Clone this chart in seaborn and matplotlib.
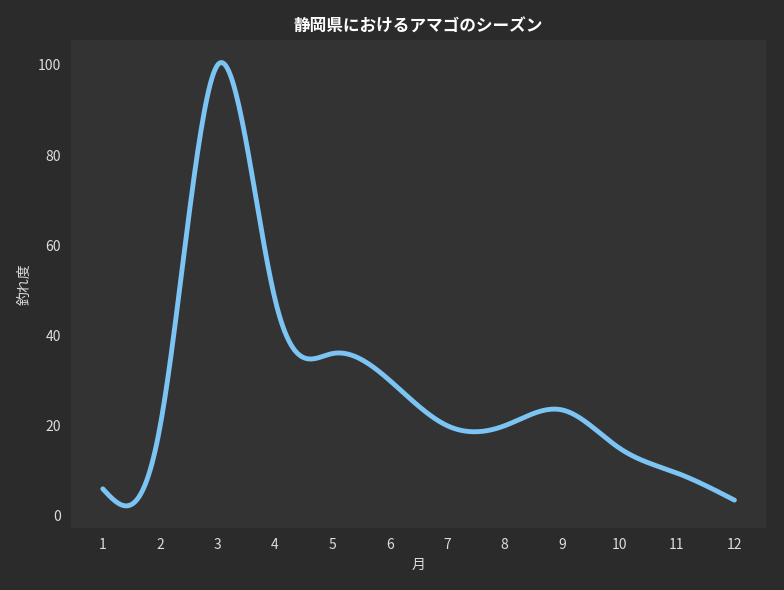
import numpy as np
import pandas as pd
import matplotlib.pyplot as plt
import seaborn as sns

months = [1, 2, 3, 4, 5, 6, 7, 8, 9, 10, 11, 12]
scores = [6, 20, 100, 48, 36, 30, 20, 20, 23.5, 15, 9.5, 3.5]


def natural_spline(x, y, xs):
    # natural cubic spline, only to draw a smooth line through the monthly values
    x = np.asarray(x, float); y = np.asarray(y, float)
    n = len(x); h = np.diff(x)
    A = np.zeros((n, n)); b = np.zeros(n)
    A[0, 0] = A[-1, -1] = 1
    for i in range(1, n - 1):
        A[i, i - 1] = h[i - 1]; A[i, i] = 2 * (h[i - 1] + h[i]); A[i, i + 1] = h[i]
        b[i] = 6 * ((y[i + 1] - y[i]) / h[i] - (y[i] - y[i - 1]) / h[i - 1])
    m = np.linalg.solve(A, b)
    idx = np.clip(np.searchsorted(x, xs) - 1, 0, n - 2)
    x0, x1, hi = x[idx], x[idx + 1], h[idx]
    return (m[idx] * (x1 - xs) ** 3 / (6 * hi) + m[idx + 1] * (xs - x0) ** 3 / (6 * hi)
            + (y[idx] / hi - m[idx] * hi / 6) * (x1 - xs)
            + (y[idx + 1] / hi - m[idx + 1] * hi / 6) * (xs - x0))


xs = np.linspace(1, 12, 400)
df = pd.DataFrame({"月": xs, "釣れ度": natural_spline(months, scores, xs)})

sns.set_theme(style="dark")
plt.rcParams['font.family'] = ['Noto Sans CJK JP', 'DejaVu Sans']

fig, ax = plt.subplots(figsize=(7.84, 5.9), dpi=100)
fig.patch.set_facecolor("#2b2b2b")
ax.set_facecolor("#333333")
sns.lineplot(data=df, x="月", y="釣れ度", color="#7cc4f4", linewidth=3.5, ax=ax)

for s in ax.spines.values():
    s.set_visible(False)
ax.set_xticks(months)
ax.set_yticks([0, 20, 40, 60, 80, 100])
ax.tick_params(colors="#dddddd", labelsize=10, length=4, color="#aaaaaa")
ax.xaxis.label.set_color("#dddddd")
ax.yaxis.label.set_color("#dddddd")
ax.set_xlabel("月", fontsize=10)
ax.set_ylabel("釣れ度", fontsize=10)
ax.set_title("静岡県におけるアマゴのシーズン", color="white", fontsize=12, fontweight="bold")
ax.grid(False)
plt.tight_layout()
plt.savefig("out.png", facecolor=fig.get_facecolor())
